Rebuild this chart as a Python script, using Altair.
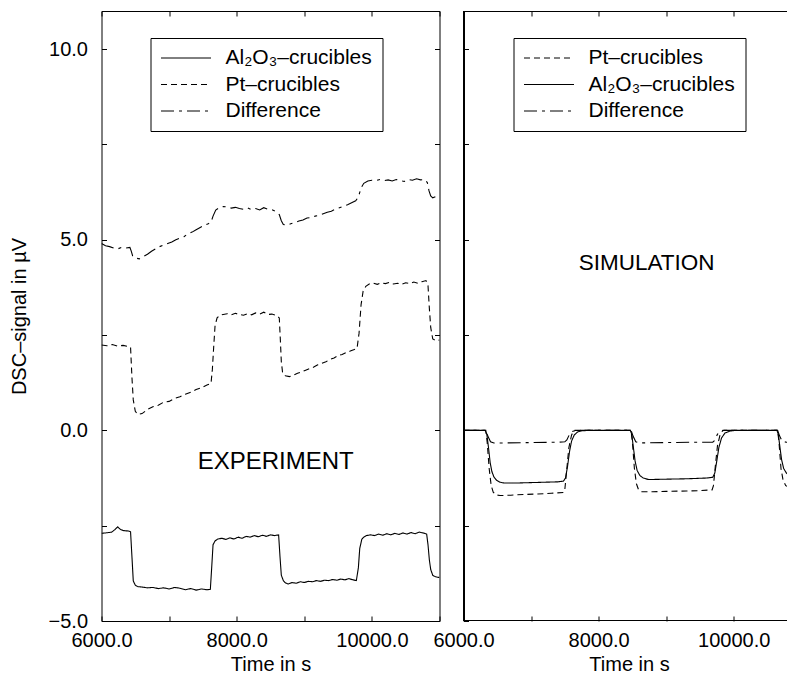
import altair as alt
import pandas as pd

# ---------------- data ----------------
SERIES_AL = "Al₂O₃–crucibles"
SERIES_PT = "Pt–crucibles"
SERIES_DIFF = "Difference"

# EXPERIMENT panel
exp_al_t = [6000, 6060, 6150, 6200, 6240, 6280, 6330, 6400, 6430, 6450, 6470, 6500, 6540, 6600, 6680,
            6760, 6840, 6920, 7000, 7080, 7160, 7240, 7320, 7400, 7480, 7560, 7610, 7630, 7650, 7680,
            7720, 7780, 7840, 7900, 7960, 8020, 8080, 8140, 8200, 8260, 8320, 8380, 8440, 8500, 8560,
            8620, 8640, 8660, 8690, 8720, 8760, 8820, 8880, 8940, 9000, 9060, 9120, 9180, 9240, 9300,
            9360, 9420, 9480, 9540, 9600, 9660, 9720, 9770, 9800, 9820, 9850, 9880, 9920, 9980, 10040,
            10100, 10160, 10220, 10280, 10340, 10400, 10460, 10520, 10580, 10640, 10700, 10760, 10810,
            10830, 10850, 10870, 10900, 10940, 11000]
exp_al_v = [-2.70, -2.69, -2.67, -2.60, -2.53, -2.60, -2.63, -2.64, -2.66, -3.30, -3.95, -4.06, -4.10,
            -4.11, -4.13, -4.12, -4.15, -4.13, -4.16, -4.12, -4.14, -4.18, -4.15, -4.19, -4.16, -4.18,
            -4.17, -3.60, -3.00, -2.90, -2.85, -2.83, -2.86, -2.82, -2.85, -2.80, -2.83, -2.78, -2.80,
            -2.76, -2.79, -2.75, -2.78, -2.74, -2.76, -2.74, -3.30, -3.80, -3.94, -4.00, -4.03, -3.99,
            -4.01, -3.97, -3.99, -3.96, -3.97, -3.94, -3.96, -3.93, -3.94, -3.91, -3.93, -3.90, -3.92,
            -3.89, -3.92, -3.94, -3.60, -3.10, -2.86, -2.80, -2.76, -2.74, -2.76, -2.72, -2.75, -2.71,
            -2.74, -2.70, -2.73, -2.69, -2.72, -2.68, -2.71, -2.67, -2.69, -2.72, -3.00, -3.40, -3.65,
            -3.80, -3.84, -3.86]

exp_pt_t = [6000, 6080, 6160, 6240, 6320, 6400, 6430, 6450, 6470, 6500, 6540, 6600, 6680, 6760, 6840,
            6920, 7000, 7080, 7160, 7240, 7320, 7400, 7480, 7560, 7620, 7640, 7660, 7680, 7710, 7750,
            7800, 7860, 7920, 7980, 8040, 8100, 8160, 8220, 8280, 8340, 8400, 8460, 8520, 8580, 8630,
            8645, 8660, 8680, 8720, 8780, 8840, 8900, 8960, 9020, 9080, 9140, 9200, 9260, 9320, 9380,
            9440, 9500, 9560, 9620, 9680, 9740, 9780, 9810, 9840, 9870, 9910, 9960, 10020, 10080,
            10140, 10200, 10260, 10320, 10380, 10440, 10500, 10560, 10620, 10680, 10740, 10800, 10830,
            10850, 10870, 10900, 10950, 11000]
exp_pt_v = [2.24, 2.22, 2.25, 2.21, 2.23, 2.20, 2.18, 1.40, 0.80, 0.50, 0.42, 0.44, 0.55, 0.62, 0.66,
            0.74, 0.76, 0.84, 0.88, 0.95, 1.00, 1.07, 1.12, 1.19, 1.23, 1.60, 2.20, 2.75, 2.95, 3.02,
            3.04, 3.06, 3.03, 3.07, 3.04, 3.02, 3.06, 3.03, 3.08, 3.05, 3.10, 3.04, 3.05, 3.02, 2.95,
            2.40, 1.80, 1.50, 1.43, 1.41, 1.45, 1.50, 1.53, 1.58, 1.62, 1.66, 1.72, 1.76, 1.80, 1.86,
            1.90, 1.96, 1.99, 2.04, 2.08, 2.12, 2.15, 2.55, 3.30, 3.65, 3.78, 3.84, 3.86, 3.83, 3.87,
            3.85, 3.88, 3.84, 3.86, 3.83, 3.87, 3.85, 3.89, 3.86, 3.90, 3.93, 3.80, 3.20, 2.70, 2.40,
            2.35, 2.37]

exp_diff_t = [6000, 6060, 6120, 6180, 6240, 6300, 6360, 6420, 6440, 6460, 6500, 6560, 6620, 6680, 6740,
              6800, 6860, 6920, 6980, 7040, 7100, 7160, 7220, 7280, 7340, 7400, 7460, 7520, 7580, 7620,
              7650, 7690, 7740, 7800, 7860, 7920, 7980, 8040, 8100, 8160, 8220, 8280, 8340, 8400, 8460,
              8520, 8580, 8630, 8660, 8690, 8740, 8800, 8860, 8920, 8980, 9040, 9100, 9160, 9220, 9280,
              9340, 9400, 9460, 9520, 9580, 9640, 9700, 9760, 9800, 9840, 9880, 9940, 10000, 10060,
              10120, 10180, 10240, 10300, 10360, 10420, 10480, 10540, 10600, 10660, 10720, 10780, 10820,
              10845, 10870, 10900, 10950, 11000]
exp_diff_v = [4.90, 4.84, 4.82, 4.78, 4.76, 4.80, 4.78, 4.80, 4.70, 4.58, 4.52, 4.50, 4.56, 4.62, 4.70,
              4.76, 4.82, 4.86, 4.90, 4.94, 5.00, 5.04, 5.08, 5.16, 5.20, 5.26, 5.32, 5.38, 5.42, 5.46,
              5.62, 5.78, 5.84, 5.87, 5.86, 5.83, 5.85, 5.82, 5.80, 5.84, 5.79, 5.82, 5.78, 5.84, 5.80,
              5.79, 5.74, 5.66, 5.50, 5.40, 5.38, 5.42, 5.45, 5.49, 5.52, 5.57, 5.58, 5.62, 5.64, 5.68,
              5.72, 5.75, 5.80, 5.84, 5.88, 5.92, 5.97, 6.02, 6.12, 6.36, 6.48, 6.54, 6.56, 6.55, 6.58,
              6.55, 6.57, 6.54, 6.58, 6.55, 6.53, 6.58, 6.56, 6.60, 6.57, 6.58, 6.50, 6.28, 6.15, 6.10,
              6.14, 6.17]

# SIMULATION panel
sim_al_t = [6000, 6320, 6345, 6370, 6395, 6420, 6450, 6490, 6540, 6600, 6800, 7000, 7200, 7400, 7480,
            7510, 7540, 7570, 7600, 7640, 7690, 7760, 7850, 8470, 8490, 8515, 8540, 8570, 8610, 8660,
            8740, 9000, 9300, 9600, 9690, 9720, 9750, 9780, 9820, 9870, 9940, 10020, 10640, 10660,
            10685, 10710, 10740, 10780, 10840, 10900]
sim_al_v = [0, 0, -0.10, -0.45, -0.85, -1.08, -1.22, -1.31, -1.36, -1.38, -1.38, -1.37, -1.36, -1.35,
            -1.33, -1.25, -0.95, -0.55, -0.28, -0.12, -0.04, -0.01, 0, 0, -0.10, -0.45, -0.80, -1.05,
            -1.18, -1.25, -1.29, -1.28, -1.27, -1.25, -1.23, -1.12, -0.80, -0.45, -0.20, -0.07, -0.02,
            0, 0, -0.10, -0.45, -0.78, -1.00, -1.12, -1.19, -1.22]

sim_pt_t = [6000, 6330, 6350, 6380, 6410, 6440, 6480, 6540, 6700, 6900, 7100, 7300, 7480, 7500, 7530,
            7560, 7600, 7640, 8480, 8500, 8530, 8560, 8590, 8640, 8800, 9000, 9300, 9500, 9680, 9700,
            9730, 9760, 9800, 9840, 10650, 10670, 10700, 10730, 10770, 10830, 10900]
sim_pt_v = [0, 0, -0.30, -1.00, -1.45, -1.62, -1.69, -1.71, -1.70, -1.68, -1.67, -1.65, -1.63, -1.55,
            -1.00, -0.45, -0.12, 0, 0, -0.30, -1.00, -1.40, -1.55, -1.61, -1.61, -1.60, -1.59, -1.58,
            -1.56, -1.45, -0.90, -0.40, -0.10, 0, 0, -0.30, -1.00, -1.30, -1.45, -1.49, -1.50]

sim_diff_t = [6000, 6330, 6360, 6400, 6450, 6600, 7000, 7400, 7500, 7530, 7570, 7620, 7680, 8480, 8510,
              8550, 8600, 9000, 9400, 9690, 9720, 9760, 9810, 9860, 10650, 10680, 10720, 10780, 10900]
sim_diff_v = [0, 0, -0.15, -0.30, -0.33, -0.33, -0.32, -0.31, -0.30, -0.25, -0.10, -0.02, 0, 0, -0.15,
              -0.30, -0.33, -0.32, -0.31, -0.31, -0.26, -0.10, -0.02, 0, 0, -0.15, -0.29, -0.31, -0.31]

y_ticks = [-5, -2.5, 0, 2.5, 5, 7.5, 10]
x_ticks_left = [6000, 7000, 8000, 9000, 10000, 11000]
x_ticks_right = [6000, 7000, 8000, 9000, 10000]

# ---------------- styling ----------------
FONT = "Liberation Sans"
H = 610
W_LEFT = 338
W_RIGHT = 331
DASH = {SERIES_AL: [1, 0], SERIES_PT: [6, 4], SERIES_DIFF: [13, 5, 3, 5]}


def frame(pairs):
    rows = []
    for name, ts, vs in pairs:
        for i, (t, v) in enumerate(zip(ts, vs)):
            rows.append({"series": name, "t": t, "v": v, "i": i})
    return pd.DataFrame(rows)


df_exp = frame([(SERIES_AL, exp_al_t, exp_al_v), (SERIES_PT, exp_pt_t, exp_pt_v),
                (SERIES_DIFF, exp_diff_t, exp_diff_v)])
df_sim = frame([(SERIES_PT, sim_pt_t, sim_pt_v), (SERIES_AL, sim_al_t, sim_al_v),
                (SERIES_DIFF, sim_diff_t, sim_diff_v)])

y_label_expr = "datum.value % 5 === 0 ? format(datum.value, '.1f') : ''"
x_label_expr = "(datum.value % 2000 === 0 && datum.value < 11000) ? format(datum.value, '.1f') : ''"

common_axis = dict(labelFont=FONT, titleFont=FONT, labelColor="black", titleColor="black",
                   tickColor="black", domain=False, grid=False, tickSize=5, offset=-5,
                   labelOverlap=False, labelFlush=False, labelFontSize=20, titleFontSize=20,
                   titleFontWeight="normal")


def legend(lx):
    return alt.Legend(orient="none", legendX=lx, legendY=27, title=None, strokeColor="black",
                      fillColor="white", padding=10, symbolType="stroke", symbolSize=2500,
                      symbolStrokeWidth=1, symbolStrokeColor="black", labelFont=FONT,
                      labelFontSize=21, labelColor="black", labelOffset=14, rowPadding=5.5,
                      clipHeight=20, cornerRadius=0)


def panel(df, order, xdom, xticks, y_left_labels, lx, label_text, label_t, label_v, label_size,
          right_axis):
    xscale = alt.Scale(domain=xdom, nice=False, zero=False)
    yscale = alt.Scale(domain=[-5, 11], nice=False, zero=False)
    y_axis = alt.Axis(orient="left", values=y_ticks,
                      labelExpr=y_label_expr if y_left_labels else "''",
                      title="DSC–signal in µV" if y_left_labels else None,
                      labelPadding=14, titlePadding=18.5, **common_axis)
    x_axis = alt.Axis(orient="bottom", values=xticks, labelExpr=x_label_expr, title="Time in s",
                      labelPadding=9, titlePadding=4, **common_axis)
    lines = alt.Chart(df).mark_line(color="black", strokeWidth=1.1, clip=True).encode(
        x=alt.X("t:Q", scale=xscale, axis=x_axis),
        y=alt.Y("v:Q", scale=yscale, axis=y_axis),
        strokeDash=alt.StrokeDash("series:N",
                                  scale=alt.Scale(domain=order, range=[DASH[s] for s in order]),
                                  legend=legend(lx)),
        order="i:Q",
    )
    top_axis = alt.Axis(orient="top", values=xticks, labels=False, title=None, minExtent=0,
                        maxExtent=0, **common_axis)
    right_y = (alt.Axis(orient="right", values=y_ticks, labels=False, title=None, minExtent=0,
                        maxExtent=0, **common_axis)
               if right_axis else None)
    txt_df = pd.DataFrame({"t": [label_t], "v": [label_v], "label": [label_text]})
    text = alt.Chart(txt_df).mark_text(font=FONT, fontSize=label_size, color="black").encode(
        x=alt.X("t:Q", scale=xscale, axis=top_axis),
        y=alt.Y("v:Q", scale=yscale, axis=right_y),
        text="label:N",
    )
    return lines, text


l_lines, l_text = panel(df_exp, [SERIES_AL, SERIES_PT, SERIES_DIFF], [6000, 11000],
                        x_ticks_left, True, 49, "EXPERIMENT", 8578, -0.83, 24, True)
left = alt.layer(l_lines, l_text).resolve_axis(x="independent", y="independent").properties(
    width=W_LEFT, height=H)

r_lines, r_text = panel(df_sim, [SERIES_PT, SERIES_AL, SERIES_DIFF], [6000, 10900],
                        x_ticks_right, False, 50, "SIMULATION", 8711, 4.38, 22.5, False)
edge_left = alt.Chart(df_sim).mark_rule(color="black", strokeWidth=1).encode(
    x=alt.value(0.5), y=alt.value(0), y2=alt.value(H))
edge_top = alt.Chart(df_sim).mark_rule(color="black", strokeWidth=1).encode(
    x=alt.value(0), x2=alt.value(W_RIGHT), y=alt.value(0.5))
edge_bottom = alt.Chart(df_sim).mark_rule(color="black", strokeWidth=1).encode(
    x=alt.value(0), x2=alt.value(W_RIGHT), y=alt.value(H - 0.5))
right = alt.layer(r_lines, r_text, edge_left, edge_top, edge_bottom).resolve_axis(
    x="independent", y="independent").properties(
    width=W_RIGHT, height=H, view=alt.ViewBackground(stroke="transparent"))

chart = alt.hconcat(left, right, spacing=24, bounds="flush").resolve_scale(
    x="independent", strokeDash="independent").resolve_legend(strokeDash="independent").properties(
    padding={"left": 0.5, "top": 2, "right": -9, "bottom": 0}, background="white"
).configure_view(stroke="black", strokeWidth=1)

chart.save("out.html", embed_options={"renderer": "svg", "actions": False})
